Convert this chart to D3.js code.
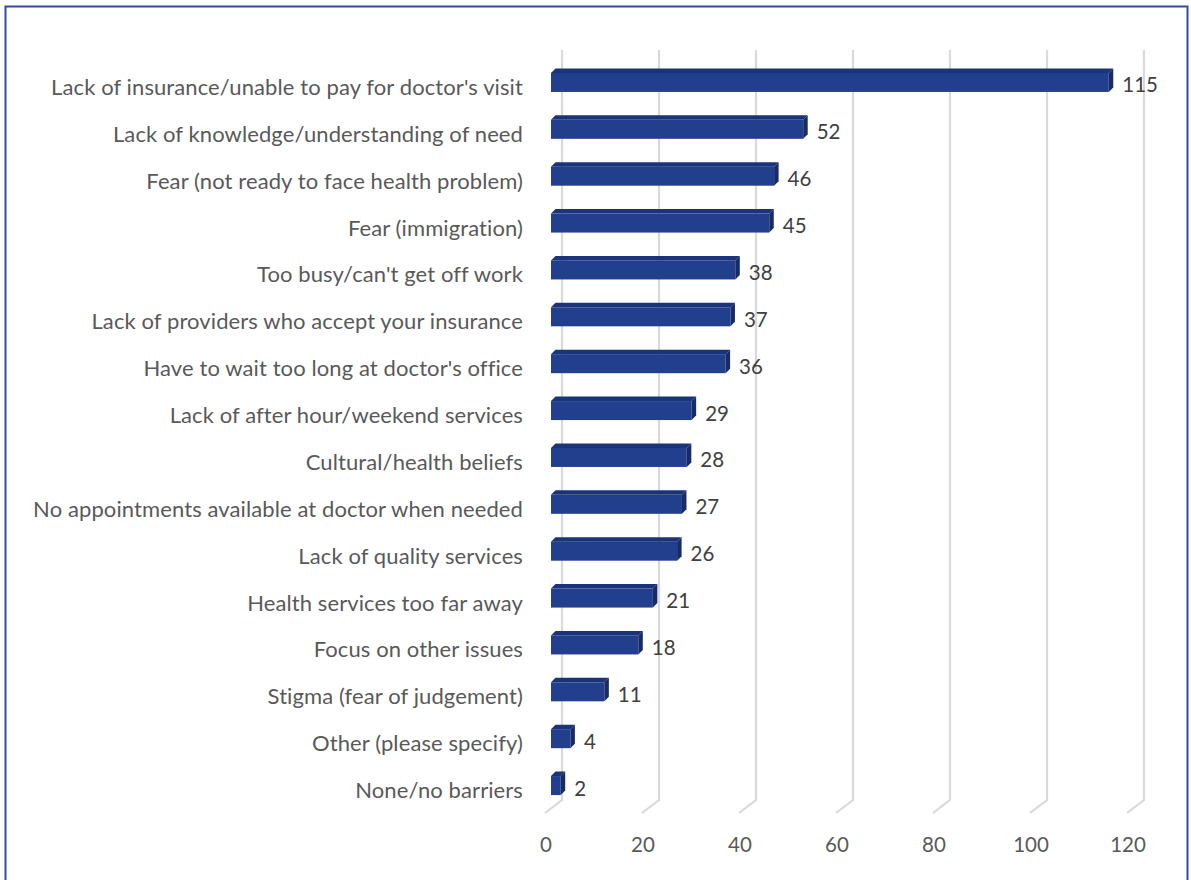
<!DOCTYPE html>
<html lang="en">
<head>
<meta charset="UTF-8">
<script src="https://d3js.org/d3.v7.min.js"></script>
<title>Barriers</title>
<style>
  body { margin: 0; background: #fff; }
  text { font-family: Lato, "Open Sans", sans-serif; }
</style>
</head>
<body>
<div id="chart"></div>
<script>
const categories = [
  "Lack of insurance/unable to pay for doctor's visit",
  "Lack of knowledge/understanding of need",
  "Fear (not ready to face health problem)",
  "Fear (immigration)",
  "Too busy/can't get off work",
  "Lack of providers who accept your insurance",
  "Have to wait too long at doctor's office",
  "Lack of after hour/weekend services",
  "Cultural/health beliefs",
  "No appointments available at doctor when needed",
  "Lack of quality services",
  "Health services too far away",
  "Focus on other issues",
  "Stigma (fear of judgement)",
  "Other (please specify)",
  "None/no barriers"
];
const values = [115, 52, 46, 45, 38, 37, 36, 29, 28, 27, 26, 21, 18, 11, 4, 2];
const ticks = [0, 20, 40, 60, 80, 100, 120];

const width = 1191, height = 880;
const depth = 4.5;       // 3d offset of bars
const barH = 19;

const svg = d3.select("#chart").append("svg")
  .attr("width", width).attr("height", height);

// frame
svg.append("rect")
  .attr("x", 5.5).attr("y", 6.5)
  .attr("width", 1182).attr("height", 885)
  .attr("fill", "none").attr("stroke", "#2F4D9E").attr("stroke-width", 2);

const x = d3.scaleLinear().domain([0, 120]).range([551, 1133]);
const y = d3.scaleBand().domain(categories).range([59, 809]);

// back wall gridlines with the floor bend
svg.append("g").selectAll("path")
  .data(ticks)
  .join("path")
  .attr("d", d => `M${x(d) + 11},50 L${x(d) + 11},800 L${x(d) - 6},813`)
  .attr("fill", "none")
  .attr("stroke", "#D9D9D9")
  .attr("stroke-width", 2.2);

svg.append("g").selectAll("text")
  .data(ticks)
  .join("text")
  .attr("x", d => x(d) - 5)
  .attr("y", 844)
  .attr("text-anchor", "middle")
  .attr("dominant-baseline", "central")
  .attr("font-size", 20.5)
  .attr("fill", "#595959")
  .text(d => d);

const data = categories.map((c, i) => ({ c, v: values[i] }));
const barTop = d => y(d.c) + (y.step() - barH) / 2;

const bars = svg.append("g").selectAll("g")
  .data(data)
  .join("g");

// front face
bars.append("rect")
  .attr("x", x(0))
  .attr("y", barTop)
  .attr("width", d => x(d.v) - x(0))
  .attr("height", barH)
  .attr("fill", "#223F8E");

// top face
bars.append("path")
  .attr("d", d => {
    const t = barTop(d);
    return `M${x(0)},${t} L${x(0) + depth},${t - depth} L${x(d.v) + depth},${t - depth} L${x(d.v)},${t} Z`;
  })
  .attr("fill", "#1B3379");

// side face
bars.append("path")
  .attr("d", d => {
    const t = barTop(d), xv = x(d.v);
    return `M${xv},${t} L${xv + depth},${t - depth} L${xv + depth},${t + barH - depth} L${xv},${t + barH} Z`;
  })
  .attr("fill", "#172B66");

// value labels
bars.append("text")
  .attr("x", d => x(d.v) + depth + 9)
  .attr("y", d => barTop(d) + barH / 2 + 2)
  .attr("dominant-baseline", "central")
  .attr("font-size", 20.5)
  .attr("fill", "#404040")
  .text(d => d.v);

// category labels
svg.append("g").selectAll("text")
  .data(data)
  .join("text")
  .attr("x", 523)
  .attr("y", d => barTop(d) + barH / 2 + 4)
  .attr("text-anchor", "end")
  .attr("dominant-baseline", "central")
  .attr("font-size", 22)
  .attr("letter-spacing", 0.1)
  .attr("fill", "#595959")
  .text(d => d.c);
</script>
</body>
</html>
